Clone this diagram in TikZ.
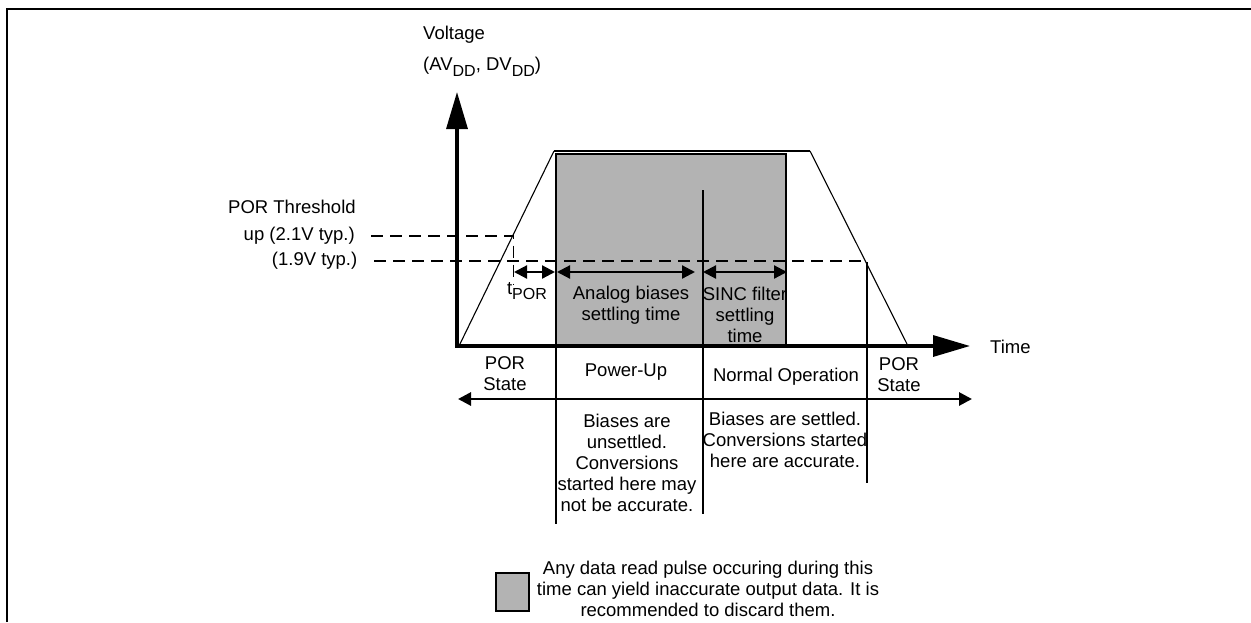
\documentclass[tikz,border=0pt]{standalone}
\usepackage{fontspec}
\setmainfont{Liberation Sans}
\usetikzlibrary{arrows.meta}
\definecolor{shade}{RGB}{179,179,179}
\newcommand\lsub[1]{\raisebox{-0.3em}{\fontsize{16}{16}\selectfont #1}}
\begin{document}
\begin{tikzpicture}[x=1pt,y=-1pt,
  lbl/.style={font=\fontsize{18.5}{21}\selectfont, inner sep=0pt, align=center},
  axis/.style={line width=3.3pt, -{Triangle[length=37pt,width=21pt]}},
  thinline/.style={line width=1.1pt},
  divider/.style={line width=2pt},
  thr/.style={line width=1.8pt, dash pattern=on 12pt off 7pt},
  span/.style={line width=2.2pt, {Triangle[length=13pt,width=13pt]}-{Triangle[length=13pt,width=13pt]}},
  ]
\useasboundingbox (0,0) rectangle (1251,622);
% frame
\draw[line width=2.2pt] (7,622) -- (7,9) -- (1251,9);
% coordinates
\coordinate (O) at (457,346);
\coordinate (Ybot) at (457,347.6);
\coordinate (Ytop) at (457,92);
\coordinate (Xbeg) at (455.4,346);
\coordinate (Xend) at (970,346);
\coordinate (r0) at (459,346);
\coordinate (r1) at (554,151);
\coordinate (r2) at (810,151);
\coordinate (r3) at (908,346);
% shaded region
\draw[fill=shade, line width=2pt] (556,154) rectangle (786,346);
% dividers
\coordinate (d1t) at (556,346); \coordinate (d1b) at (556,524);
\coordinate (d2t) at (702.5,190); \coordinate (d2b) at (702.5,514);
\coordinate (d3t) at (867,262); \coordinate (d3b) at (867,483);
\draw[divider] (d1t) -- (d1b);
\draw[divider] (d2t) -- (d2b);
\draw[divider] (d3t) -- (d3b);
% thresholds
\coordinate (t1a) at (371,236); \coordinate (t1b) at (513.5,236);
\coordinate (t2a) at (374,261); \coordinate (t2b) at (867,261);
\coordinate (tv) at (513.5,284);
\draw[thr] (t1a) -- (t1b) -- (tv);
\draw[thr] (t2a) -- (t2b);
% supply waveform
\draw[thinline] (r0) -- (r1);
\draw[line width=2.6pt] (r1) -- (r2);
\draw[thinline] (r2) -- (r3);
% axes
\draw[axis] (Ybot) -- (Ytop);
\draw[axis] (Xbeg) -- (Xend);
% spans
\coordinate (s1a) at (514,272); \coordinate (s1b) at (555,272);
\coordinate (s2a) at (557,272); \coordinate (s2b) at (695,272);
\coordinate (s3a) at (703,272); \coordinate (s3b) at (787,272);
\draw[span] (s1a) -- (s1b);
\draw[span] (s2a) -- (s2b);
\draw[span] (s3a) -- (s3b);
\coordinate (la) at (458,399); \coordinate (lb) at (972,399);
\draw[span, line width=2.8pt] (la) -- (lb);
% labels
\node[lbl, anchor=west] (volt) at (423,35) {Voltage};
\node[lbl, anchor=west] (volt2) at (423,67) {(AV\lsub{DD}, DV\lsub{DD})};
\node[lbl, anchor=west] (porth) at (228,207) {POR Threshold};
\node[lbl, anchor=east] (up) at (355,236) {up (2.1V typ.)};
\node[lbl, anchor=east] (dn) at (357.5,261) {(1.9V typ.)};
\node[lbl] (tpor) at (527,291) {t\lsub{POR}};
\node[lbl] (anb) at (631,305) {Analog biases\\settling time};
\node[lbl] (sinc) at (745,314.5) {SINC filter\\settling\\time};
\node[lbl, anchor=west] (time) at (990,347) {Time};
\node[lbl] (por1) at (505,373.5) {POR\\State};
\node[lbl] (pwr) at (626,372) {Power-Up};
\node[lbl] (norm) at (786,377) {Normal Operation};
\node[lbl] (por2) at (899,375) {POR\\State};
\node[lbl] (bu) at (627,463) {Biases are\\unsettled.\\Conversions\\started here may\\not be accurate.};
\node[lbl] (bs) at (785,440) {Biases are settled.\\Conversions started\\here are accurate.};
% legend
\draw[fill=shade, line width=2pt] (496,573) rectangle (529,611);
\node[lbl] (leg) at (708,588.5) {Any data read pulse occuring during this\\time can yield inaccurate output data. It is\\recommended to discard them.};
\end{tikzpicture}
\end{document}
